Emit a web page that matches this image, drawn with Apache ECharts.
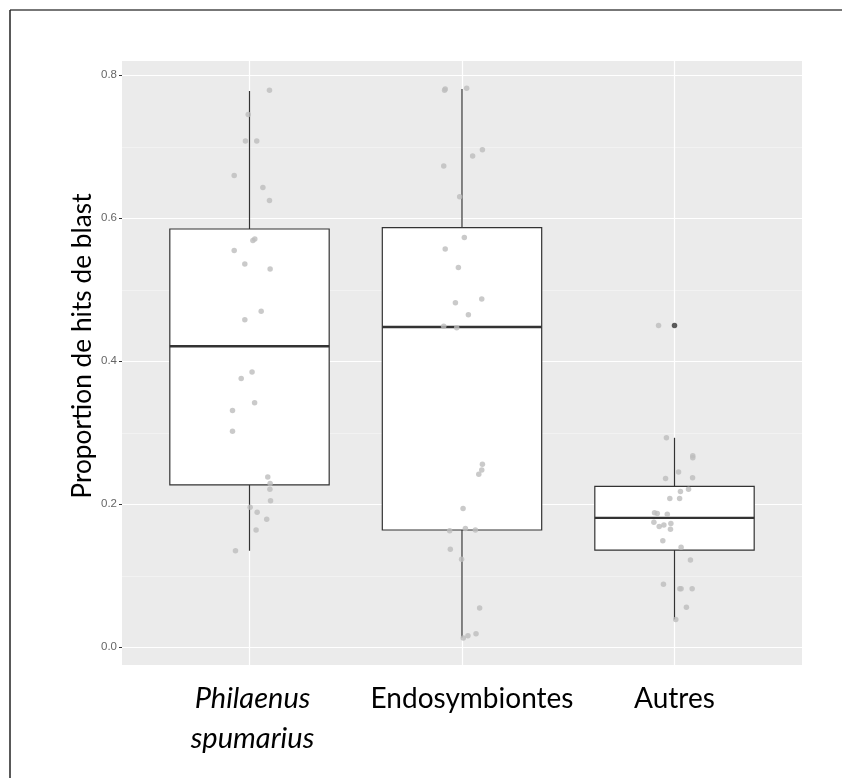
<!DOCTYPE html>
<html>
<head>
<meta charset="utf-8">
<script src="https://cdn.jsdelivr.net/npm/echarts@6/dist/echarts.min.js"></script>
<style>
  html, body { margin: 0; padding: 0; background: #ffffff; }
  #chart { width: 842px; height: 778px; }
</style>
</head>
<body>
<div id="chart"></div>
<script>
// ---- Data ----
const categories = ['Philaenus spumarius', 'Endosymbiontes', 'Autres'];
const yTicks = [0.0, 0.2, 0.4, 0.6, 0.8];
const yMinorTicks = [0.1, 0.3, 0.5, 0.7];

// box stats: [lower whisker, Q1, median, Q3, upper whisker]
const philaenusBox = [0.135, 0.227, 0.421, 0.585, 0.778];
const endosymBox = [0.0136, 0.164, 0.448, 0.587, 0.781];
const autresBox = [0.039, 0.136, 0.181, 0.225, 0.293];
const autresOutliers = [0.450];

// jittered observations (value, horizontal jitter offset)
const philaenusValues = [0.779, 0.745, 0.708, 0.708, 0.660, 0.643, 0.625, 0.569, 0.571, 0.555, 0.536, 0.529, 0.470, 0.458, 0.385, 0.376, 0.342, 0.331, 0.302, 0.238, 0.229, 0.221, 0.205, 0.196, 0.189, 0.179, 0.164, 0.135];
const philaenusJitter = [0.094, -0.006, -0.019, 0.034, -0.072, 0.063, 0.094, 0.016, 0.025, -0.072, -0.022, 0.097, 0.055, -0.022, 0.012, -0.039, 0.024, -0.080, -0.080, 0.086, 0.097, 0.096, 0.099, 0.003, 0.036, 0.081, 0.031, -0.066];

const endosymValues = [0.781, 0.779, 0.782, 0.696, 0.687, 0.673, 0.630, 0.573, 0.557, 0.531, 0.487, 0.482, 0.465, 0.449, 0.447, 0.256, 0.248, 0.242, 0.194, 0.163, 0.166, 0.164, 0.137, 0.123, 0.055, 0.013, 0.016, 0.019];
const endosymJitter = [-0.079, -0.082, 0.022, 0.096, 0.050, -0.086, -0.011, 0.011, -0.079, -0.017, 0.093, -0.031, 0.030, -0.086, -0.025, 0.096, 0.093, 0.079, 0.005, -0.058, 0.016, 0.063, -0.055, -0.002, 0.083, 0.006, 0.028, 0.066];

const autresValues = [0.450, 0.293, 0.268, 0.265, 0.245, 0.236, 0.237, 0.221, 0.218, 0.208, 0.208, 0.188, 0.187, 0.186, 0.175, 0.169, 0.171, 0.173, 0.165, 0.149, 0.140, 0.122, 0.088, 0.082, 0.082, 0.082, 0.056, 0.039];
const autresJitter = [-0.075, -0.038, 0.086, 0.086, 0.019, -0.042, 0.085, 0.066, 0.028, -0.022, 0.024, -0.094, -0.081, -0.034, -0.097, -0.072, -0.050, -0.017, -0.019, -0.055, 0.031, 0.075, -0.052, 0.025, 0.031, 0.083, 0.056, 0.006];

// ---- Build ----
const catPos = [1, 2, 3];
const boxRows = [philaenusBox, endosymBox, autresBox].map((b, i) => [catPos[i]].concat(b));
function jitterPoints(pos, vals, jit) {
  return vals.map((v, i) => [pos + jit[i], v]);
}
const points = []
  .concat(jitterPoints(1, philaenusValues, philaenusJitter))
  .concat(jitterPoints(2, endosymValues, endosymJitter))
  .concat(jitterPoints(3, autresValues, autresJitter));
const outlierPoints = autresOutliers.map(v => [3, v]);

const BOX_WIDTH = 0.75;
const chart = echarts.init(document.getElementById('chart'), null, { renderer: 'canvas' });

const option = {
  animation: false,
  backgroundColor: '#ffffff',
  grid: {
    left: 122, right: 40, top: 61, bottom: 113,
    show: true, backgroundColor: '#EBEBEB', borderWidth: 0
  },
  xAxis: {
    type: 'value', min: 0.4, max: 3.6,
    axisLine: { show: false },
    splitLine: { show: false },
    axisTick: { show: true, length: 3, lineStyle: { color: '#333333', width: 1 }, customValues: catPos },
    axisLabel: {
      customValues: catPos,
      margin: 14,
      formatter: function (v) {
        const i = Math.round(v) - 1;
        if (i === 0) return '{i|Philaenus}\n{i|spumarius}';
        if (i === 1) return '{e|' + categories[1] + '}';
        return '{n|' + categories[2] + '}';
      },
      rich: {
        i: { fontFamily: 'Lato', fontStyle: 'italic', fontSize: 29, lineHeight: 40, color: '#000', padding: [0, 0, 0, 6] },
        e: { fontFamily: 'Lato', fontSize: 28, lineHeight: 40, color: '#000', padding: [0, 0, 0, 20] },
        n: { fontFamily: 'Lato', fontSize: 28, lineHeight: 40, color: '#000' }
      }
    }
  },
  yAxis: {
    type: 'value', min: -0.0248, max: 0.820,
    axisLine: { show: false },
    splitLine: { show: false },
    axisTick: { show: true, length: 3, lineStyle: { color: '#333333', width: 1 }, customValues: yTicks },
    axisLabel: {
      customValues: yTicks,
      margin: 5,
      color: '#666666',
      fontFamily: 'Liberation Sans',
      fontSize: 11.5,
      formatter: v => v.toFixed(1)
    }
  },
  graphic: [
    { type: 'line', shape: { x1: 10, y1: 10, x2: 842, y2: 10 }, style: { stroke: '#777777', lineWidth: 2 }, z: 100 },
    { type: 'line', shape: { x1: 10, y1: 10, x2: 10, y2: 778 }, style: { stroke: '#222222', lineWidth: 1.5 }, z: 100 },
    {
      type: 'text', x: 83, y: 346, rotation: Math.PI / 2,
      style: {
        text: 'Proportion de hits de blast',
        fontFamily: 'Lato', fontSize: 26.3, fill: '#000',
        textAlign: 'center', textVerticalAlign: 'middle'
      }
    }
  ],
  series: [
    {
      type: 'line', data: [], z: 1, silent: true,
      markLine: {
        z: 1,
        silent: true, symbol: 'none', animation: false,
        label: { show: false },
        data: []
          .concat(yMinorTicks.map(v => ({ yAxis: v, lineStyle: { color: '#F7F7F7', width: 0.6, type: 'solid' } })))
          .concat(yTicks.map(v => ({ yAxis: v, lineStyle: { color: '#FFFFFF', width: 1.2, type: 'solid' } })))
          .concat(catPos.map(v => ({ xAxis: v, lineStyle: { color: '#FFFFFF', width: 1.2, type: 'solid' } })))
      }
    },
    {
      type: 'custom', z: 10,
      data: boxRows,
      encode: { x: 0, y: [1, 2, 3, 4, 5] },
      renderItem: function (params, api) {
        const x = api.value(0);
        const pLow = api.coord([x, api.value(1)]);
        const pQ1 = api.coord([x, api.value(2)]);
        const pMed = api.coord([x, api.value(3)]);
        const pQ3 = api.coord([x, api.value(4)]);
        const pHigh = api.coord([x, api.value(5)]);
        const w = api.size([BOX_WIDTH, 0])[0];
        const left = pQ1[0] - w / 2;
        const stroke = { stroke: '#333333', lineWidth: 1.2 };
        return {
          type: 'group',
          children: [
            { type: 'line', shape: { x1: pQ3[0], y1: pQ3[1], x2: pHigh[0], y2: pHigh[1] }, style: stroke },
            { type: 'line', shape: { x1: pLow[0], y1: pLow[1], x2: pQ1[0], y2: pQ1[1] }, style: stroke },
            { type: 'rect', shape: { x: left, y: pQ3[1], width: w, height: pQ1[1] - pQ3[1] }, style: { fill: '#FFFFFF', stroke: '#333333', lineWidth: 1.2 } },
            { type: 'line', shape: { x1: left, y1: pMed[1], x2: left + w, y2: pMed[1] }, style: { stroke: '#333333', lineWidth: 2.4 } }
          ]
        };
      }
    },
    {
      type: 'scatter', z: 11, data: outlierPoints,
      symbol: 'circle', symbolSize: 5.5,
      itemStyle: { color: '#333333' }
    },
    {
      type: 'scatter', z: 12, data: points,
      symbol: 'circle', symbolSize: 5.5,
      itemStyle: { color: '#BDBDBD' }
    }
  ]
};
chart.setOption(option);
</script>
</body>
</html>
